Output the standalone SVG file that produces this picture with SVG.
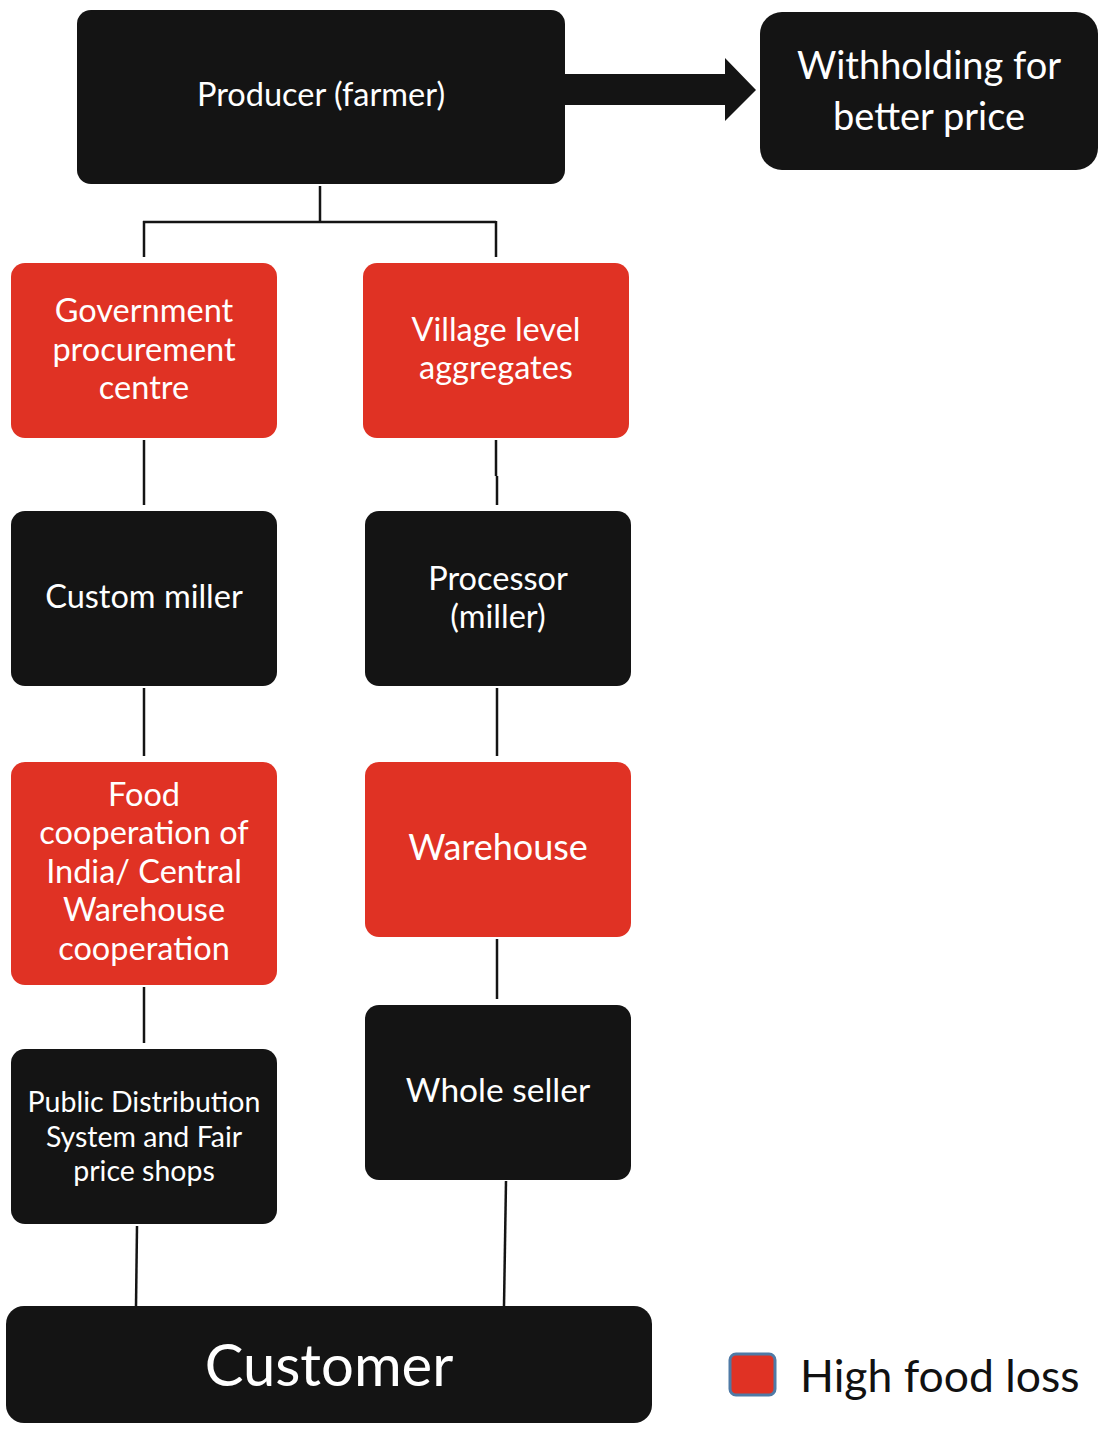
<svg xmlns="http://www.w3.org/2000/svg" width="1100" height="1429" viewBox="0 0 1100 1429">
<style>
.k{fill:#141414}
.r{fill:#e03224}
.t{fill:#fff;font-family:Lato,"Open Sans","Liberation Sans",sans-serif;text-anchor:middle}
.m{font-size:32.5px}
.c{stroke:#141414;stroke-width:2.5;fill:none}
</style>
<rect width="1100" height="1429" fill="#fff"/>
<g id="connectors">
<path class="c" d="M320,186V222M143,222H496M144,221V257M496,221V257"/>
<path class="c" d="M144,440V505"/>
<path class="c" d="M496,440V476M497,476V505"/>
<path class="c" d="M144,688V756"/>
<path class="c" d="M497,688V756"/>
<path class="c" d="M144,987V1043"/>
<path class="c" d="M497,939V999"/>
<path class="c" d="M137,1226L136,1306"/>
<path class="c" d="M506,1181L504,1306"/>
<polygon class="k" points="563,74 725,74 725,58 756,90 725,121 725,105 563,105"/>
</g>
<g id="producer"><rect class="k" x="77" y="10" width="488" height="174" rx="14"/><text class="t m" x="321" y="106">Producer (farmer)</text></g>
<g id="withholding"><rect class="k" x="760" y="12" width="338" height="158" rx="22"/><text class="t" x="929" y="79" font-size="38">Withholding for</text><text class="t" x="929" y="130" font-size="38">better price</text></g>
<g id="gov"><rect class="r" x="11" y="263" width="266" height="175" rx="14"/><text class="t m" x="144" y="322">Government</text><text class="t m" x="144" y="361">procurement</text><text class="t m" x="144" y="399">centre</text></g>
<g id="village"><rect class="r" x="363" y="263" width="266" height="175" rx="14"/><text class="t m" x="496" y="341">Village level</text><text class="t m" x="496" y="379">aggregates</text></g>
<g id="custom"><rect class="k" x="11" y="511" width="266" height="175" rx="14"/><text class="t m" x="144" y="608">Custom miller</text></g>
<g id="processor"><rect class="k" x="365" y="511" width="266" height="175" rx="14"/><text class="t m" x="498" y="590">Processor</text><text class="t m" x="498" y="628">(miller)</text></g>
<g id="food"><rect class="r" x="11" y="762" width="266" height="223" rx="14"/><text class="t m" x="144" y="806">Food</text><text class="t m" x="144" y="844">cooperation of</text><text class="t m" x="144" y="883">India/ Central</text><text class="t m" x="144" y="921">Warehouse</text><text class="t m" x="144" y="960">cooperation</text></g>
<g id="warehouse"><rect class="r" x="365" y="762" width="266" height="175" rx="14"/><text class="t" x="498" y="860" font-size="36">Warehouse</text></g>
<g id="pds"><rect class="k" x="11" y="1049" width="266" height="175" rx="14"/><text class="t" x="144" y="1112" font-size="28.5">Public Distribution</text><text class="t" x="144" y="1147" font-size="28.5">System and Fair</text><text class="t" x="144" y="1181" font-size="28.5">price shops</text></g>
<g id="wholeseller"><rect class="k" x="365" y="1005" width="266" height="175" rx="14"/><text class="t" x="498" y="1102" font-size="33.5">Whole seller</text></g>
<g id="customer"><rect class="k" x="6" y="1306" width="646" height="117" rx="18"/><text class="t" x="329" y="1386" font-size="58">Customer</text></g>
<g id="legend"><rect x="730" y="1354" width="45" height="41" rx="6" fill="#e03224" stroke="#4f7aa6" stroke-width="3"/><text x="800" y="1392" font-size="44.5" fill="#111" font-family="Lato,'Open Sans','Liberation Sans',sans-serif">High food loss</text></g>
</svg>
